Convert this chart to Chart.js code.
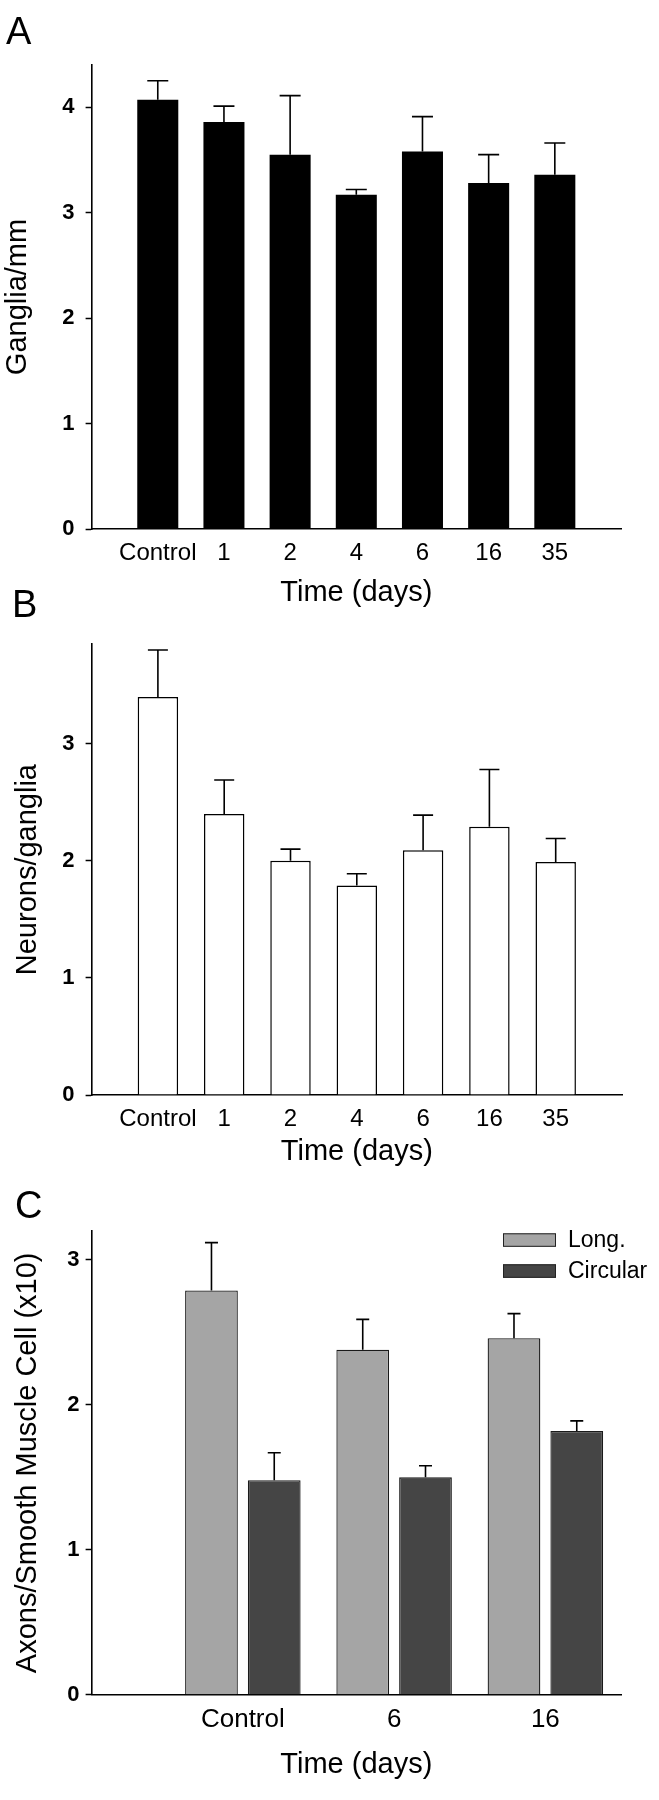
<!DOCTYPE html>
<html>
<head>
<meta charset="utf-8">
<script src="https://cdn.jsdelivr.net/npm/chart.js@4.4.1/dist/chart.umd.min.js"></script>
<style>
html, body { margin: 0; padding: 0; background: #fff; }
#wrap { position: relative; width: 659px; height: 1800px; overflow: hidden; }
canvas { position: absolute; left: 0; }
.letter { position: absolute; font-family: "Liberation Sans", Arial, sans-serif; font-size: 38px; line-height: 38px; color: #000; z-index: 2; }
</style>
</head>
<body>
<div id="wrap">
  <canvas id="cA" width="659" height="620" style="top:0px"></canvas>
  <canvas id="cB" width="659" height="560" style="top:620px"></canvas>
  <canvas id="cC" width="659" height="620" style="top:1180px"></canvas>
  <div class="letter" style="left:6px; top:12px;">A</div>
  <div class="letter" style="left:12px; top:585px;">B</div>
  <div class="letter" style="left:15px; top:1186px;">C</div>
</div>
<script>
// ---------- data ----------
const daysAB = ['Control', '1', '2', '4', '6', '16', '35'];
const gangliaMean = [4.07, 3.86, 3.55, 3.17, 3.58, 3.28, 3.36];
const gangliaSem  = [0.18, 0.15, 0.56, 0.05, 0.33, 0.27, 0.30];
const neuronsMean = [3.40, 2.40, 2.00, 1.79, 2.09, 2.29, 1.99];
const neuronsSem  = [0.40, 0.29, 0.10, 0.10, 0.30, 0.49, 0.20];
const daysC = ['Control', '6', '16'];
const longMean = [2.79, 2.38, 2.46];
const longSem  = [0.33, 0.21, 0.17];
const circMean = [1.48, 1.50, 1.82];
const circSem  = [0.19, 0.08, 0.07];
const yTicksA = [0, 1, 2, 3, 4];
const yTicksB = [0, 1, 2, 3];
const yTicksC = [0, 1, 2, 3];

// ---------- styling ----------
const FONT = '"Liberation Sans", Arial, sans-serif';
Chart.defaults.font.family = FONT;
Chart.defaults.color = '#000';

const errorBars = {
  id: 'errorBars',
  afterDatasetsDraw(chart, args, o) {
    const ctx = chart.ctx;
    const ys = chart.scales.y;
    chart.data.datasets.forEach((ds, di) => {
      if (!ds.errors) return;
      const meta = chart.getDatasetMeta(di);
      meta.data.forEach((bar, i) => {
        const raw = ds.data[i];
        const v = (raw && typeof raw === 'object') ? raw.y : raw;
        const e = ds.errors[i];
        if (v == null || e == null) return;
        const top = ys.getPixelForValue(v + e);
        ctx.save();
        ctx.strokeStyle = '#000';
        ctx.lineWidth = o.lineWidth || 1.6;
        ctx.beginPath();
        ctx.moveTo(bar.x, bar.y);
        ctx.lineTo(bar.x, top);
        ctx.moveTo(bar.x - o.cap / 2, top);
        ctx.lineTo(bar.x + o.cap / 2, top);
        ctx.stroke();
        ctx.restore();
      });
    });
  }
};

const boxLegend = {
  id: 'boxLegend',
  afterDraw(chart, args, o) {
    if (!o || !o.show) return;
    const {ctx, chartArea} = chart;
    chart.data.datasets.forEach((ds, i) => {
      const x = chartArea.right + o.dx;
      const y = chartArea.top + o.dy + i * o.row;
      ctx.save();
      ctx.fillStyle = ds.backgroundColor;
      ctx.fillRect(x, y, o.w, o.h);
      ctx.strokeStyle = '#222';
      ctx.lineWidth = 1;
      ctx.strokeRect(x + 0.5, y + 0.5, o.w - 1, o.h - 1);
      ctx.fillStyle = '#000';
      ctx.font = o.fontSize + 'px ' + FONT;
      ctx.textBaseline = 'middle';
      ctx.textAlign = 'left';
      ctx.fillText(ds.label, x + o.w + 12, y + o.h / 2 + 1);
      ctx.restore();
    });
  }
};

function yAxis(max, ticksArr, title, titlePadTop, tickPad, axisWidth) {
  return {
    type: 'linear',
    min: 0, max: max, bounds: 'data',
    afterBuildTicks: s => { s.ticks = ticksArr.map(v => ({value: v})); },
    afterFit: s => { s.width = axisWidth; },
    ticks: { font: { size: 22, weight: 'bold' }, padding: tickPad, color: '#000' },
    grid: { display: true, drawOnChartArea: false, drawTicks: true, tickLength: 6, tickColor: '#000', tickWidth: 1.5 },
    border: { display: true, color: '#000', width: 1.6 },
    title: { display: true, text: title, font: { size: 29 }, color: '#000', padding: { top: titlePadTop, bottom: 0 } }
  };
}

function xCat(labels, height, tickSize, tickPad) {
  return {
    type: 'category',
    labels: labels,
    offset: false,
    afterFit: s => { s.height = height; },
    ticks: { font: { size: tickSize }, padding: tickPad, autoSkip: false, maxRotation: 0, minRotation: 0, color: '#000' },
    grid: { display: false, drawTicks: false, tickLength: 0, offset: false },
    border: { display: true, color: '#000', width: 1.6 },
    title: { display: true, text: 'Time (days)', font: { size: 29 }, color: '#000', padding: { top: 0, bottom: 0 } }
  };
}

const common = {
  responsive: false,
  animation: false,
  events: [],
  plugins: { legend: { display: false }, tooltip: { enabled: false } }
};

// ---------- Panel A ----------
const labelsAB = [''].concat(daysAB, ['']);
new Chart(document.getElementById('cA'), {
  type: 'bar',
  data: {
    labels: labelsAB,
    datasets: [{
      label: 'Ganglia/mm',
      data: [null].concat(gangliaMean, [null]),
      errors: [null].concat(gangliaSem, [null]),
      backgroundColor: '#000',
      borderWidth: 0,
      categoryPercentage: 1,
      barPercentage: 0.62
    }]
  },
  options: Object.assign({}, common, {
    layout: { autoPadding: false, padding: { top: 65, right: 38, bottom: 9.6, left: 0 } },
    scales: {
      x: xCat(labelsAB, 81.4, 24, 10),
      y: yAxis(4.4, yTicksA, 'Ganglia/mm', 0.6, 11, 91.6)
    },
    plugins: Object.assign({}, common.plugins, { errorBars: { cap: 21, lineWidth: 1.6 } })
  }),
  plugins: [errorBars]
});

// ---------- Panel B ----------
new Chart(document.getElementById('cB'), {
  type: 'bar',
  data: {
    labels: labelsAB,
    datasets: [{
      label: 'Neurons/ganglia',
      data: [null].concat(neuronsMean, [null]),
      errors: [null].concat(neuronsSem, [null]),
      backgroundColor: '#fff',
      borderColor: '#000',
      borderWidth: 1.5,
      categoryPercentage: 1,
      barPercentage: 0.61
    }]
  },
  options: Object.assign({}, common, {
    layout: { autoPadding: false, padding: { top: 10, right: 37, bottom: 10.6, left: 0 } },
    scales: {
      x: xCat(labelsAB, 74.4, 24, 10),
      y: yAxis(3.85, yTicksB, 'Neurons/ganglia', 10.6, 11, 91.6)
    },
    plugins: Object.assign({}, common.plugins, { errorBars: { cap: 20, lineWidth: 1.6 } })
  }),
  plugins: [errorBars]
});

// ---------- Panel C ----------
new Chart(document.getElementById('cC'), {
  type: 'bar',
  data: {
    datasets: [{
      label: 'Long.',
      data: daysC.map((d, i) => ({ x: i + 1, y: longMean[i] })),
      errors: longSem,
      backgroundColor: '#a5a5a5',
      borderColor: '#1a1a1a',
      borderWidth: 1.3,
      categoryPercentage: 0.83,
      barPercentage: 0.84
    }, {
      label: 'Circular',
      data: daysC.map((d, i) => ({ x: i + 1, y: circMean[i] })),
      errors: circSem,
      backgroundColor: '#454545',
      borderColor: '#1a1a1a',
      borderWidth: 1.3,
      categoryPercentage: 0.83,
      barPercentage: 0.84
    }]
  },
  options: Object.assign({}, common, {
    layout: { autoPadding: false, padding: { top: 51, right: 38, bottom: 17.6, left: 0 } },
    scales: {
      x: {
        type: 'linear',
        min: 0, max: 3.5, bounds: 'data',
        offset: false,
        afterBuildTicks: s => { s.ticks = daysC.map((d, i) => ({ value: i + 1 })); },
        afterFit: s => { s.height = 87.7; },
        ticks: { font: { size: 26 }, padding: 9.7, autoSkip: false, maxRotation: 0, minRotation: 0, color: '#000',
                 callback: v => daysC[Math.round(v) - 1] || '' },
        grid: { display: false, drawTicks: false, tickLength: 0, offset: false },
        border: { display: true, color: '#000', width: 1.6 },
        title: { display: true, text: 'Time (days)', font: { size: 29 }, color: '#000', padding: { top: 0, bottom: 0 } }
      },
      y: yAxis(3.2, yTicksC, 'Axons/Smooth Muscle Cell (x10)', 10.6, 6, 91.6)
    },
    plugins: Object.assign({}, common.plugins, {
      errorBars: { cap: 13, lineWidth: 1.6 },
      boxLegend: { show: true, dx: -118, dy: 2.3, row: 31, w: 53, h: 13.5, fontSize: 23 }
    })
  }),
  plugins: [errorBars, boxLegend]
});
</script>
</body>
</html>
